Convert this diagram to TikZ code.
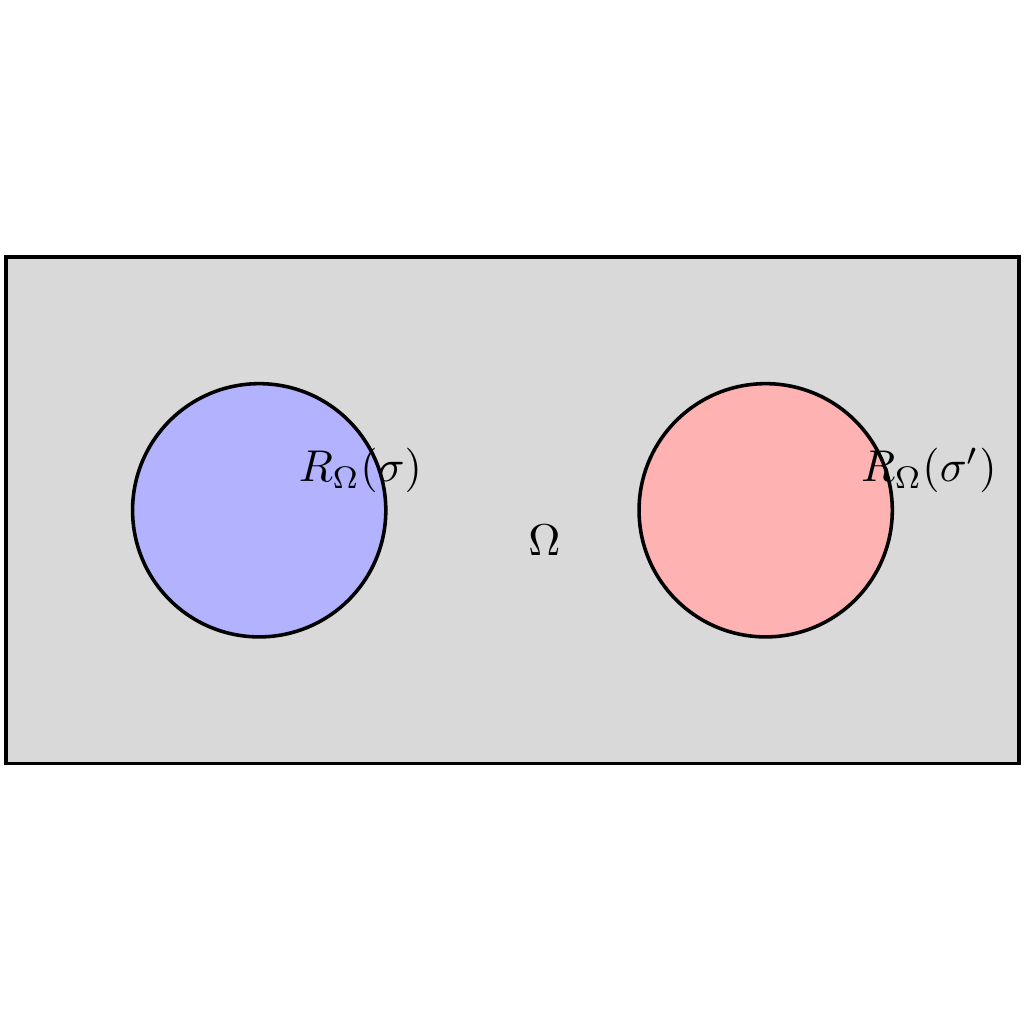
\documentclass[tikz,border=0pt]{standalone}
\usepackage{amsmath,amssymb}
\usepackage{tikz}
\usepackage{xcolor}
\usetikzlibrary{positioning,calc}
\definecolor{omegaGray}{RGB}{217,217,217}
\definecolor{sigmaBlue}{RGB}{178,178,255}
\definecolor{sigmaRed}{RGB}{255,178,178}

\begin{document}
\begin{tikzpicture}
    \useasboundingbox (-0.047,-2.05) rectangle (8.04,6.03);
    % Domain
    \draw[thick,fill=omegaGray] (0,0) rectangle (8,4);
    \node[anchor=base,inner sep=0] (omega) at (4.253,1.645) {$\Omega$};

    % Region of sigma
    \draw[thick,fill=sigmaBlue] (2,2) circle (1);
    \node[anchor=base west,inner sep=0] (regA) at (2.306,2.224) {$R_\Omega(\sigma)$};

    % Region of sigma'
    \draw[thick,fill=sigmaRed] (6,2) circle (1);
    \node[anchor=base west,inner sep=0] (regB) at (6.746,2.224) {$R_\Omega(\sigma')$};
\end{tikzpicture}
\end{document}
